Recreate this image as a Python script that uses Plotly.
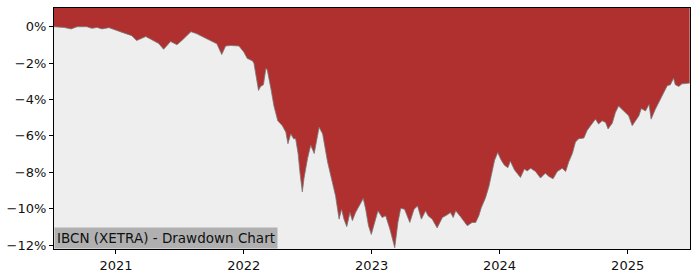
import plotly.graph_objects as go

dates = [
    "2020-07-08", "2020-08-06", "2020-08-26", "2020-09-12", "2020-10-10", "2020-10-24",
    "2020-11-08", "2020-11-22", "2020-12-12", "2021-01-01", "2021-01-23", "2021-02-15",
    "2021-03-01", "2021-03-27", "2021-04-19", "2021-05-03", "2021-05-17", "2021-06-06",
    "2021-06-24", "2021-07-08", "2021-08-03", "2021-08-20", "2021-09-17", "2021-10-16",
    "2021-10-30", "2021-11-10", "2021-11-25", "2021-12-18", "2022-01-01", "2022-01-11",
    "2022-01-15", "2022-01-26", "2022-01-30", "2022-02-04", "2022-02-12", "2022-02-18",
    "2022-02-26", "2022-03-05", "2022-03-09", "2022-03-19", "2022-03-28", "2022-04-08",
    "2022-04-21", "2022-05-01", "2022-05-07", "2022-05-15", "2022-05-23", "2022-05-29",
    "2022-06-05", "2022-06-10", "2022-06-17", "2022-06-22", "2022-07-02", "2022-07-11",
    "2022-07-21", "2022-08-04", "2022-08-14", "2022-08-28", "2022-09-08", "2022-09-20",
    "2022-09-30", "2022-10-07", "2022-10-14", "2022-10-22", "2022-10-31", "2022-11-07",
    "2022-11-16", "2022-11-26", "2022-12-08", "2022-12-15", "2022-12-23", "2022-12-31",
    "2023-01-07", "2023-01-19", "2023-01-31", "2023-02-10", "2023-02-22", "2023-03-08",
    "2023-03-17", "2023-03-25", "2023-04-05", "2023-04-11", "2023-04-20", "2023-05-02",
    "2023-05-12", "2023-05-23", "2023-06-04", "2023-06-11", "2023-06-23", "2023-07-07",
    "2023-07-22", "2023-08-05", "2023-08-14", "2023-08-22", "2023-08-29", "2023-09-12",
    "2023-10-01", "2023-10-15", "2023-10-25", "2023-11-03", "2023-11-10", "2023-11-22",
    "2023-12-02", "2023-12-08", "2023-12-18", "2023-12-27", "2024-01-06", "2024-01-15",
    "2024-01-25", "2024-02-01", "2024-02-13", "2024-03-01", "2024-03-12", "2024-03-20",
    "2024-03-30", "2024-04-13", "2024-04-27", "2024-05-11", "2024-05-21", "2024-06-02",
    "2024-06-14", "2024-06-28", "2024-07-08", "2024-07-17", "2024-07-27", "2024-08-05",
    "2024-08-14", "2024-08-29", "2024-09-07", "2024-09-17", "2024-10-01", "2024-10-10",
    "2024-10-20", "2024-10-30", "2024-11-06", "2024-11-18", "2024-11-27", "2024-12-06",
    "2024-12-20", "2025-01-04", "2025-01-14", "2025-01-23", "2025-02-02", "2025-02-09",
    "2025-02-21", "2025-03-03", "2025-03-09", "2025-03-21", "2025-04-04", "2025-04-14",
    "2025-04-24", "2025-05-03", "2025-05-12", "2025-05-17", "2025-05-27", "2025-06-05",
    "2025-06-20", "2025-06-27",
]

drawdown_pct = [
    0.00, -0.04, -0.12, 0.00, 0.00, -0.09,
    -0.04, -0.12, -0.05, -0.20, -0.34, -0.49,
    -0.76, -0.54, -0.76, -0.92, -1.24, -0.81,
    -0.99, -0.76, -0.27, -0.39, -0.66, -0.94,
    -1.53, -1.06, -1.03, -1.06, -1.39, -1.75,
    -1.78, -1.88, -2.02, -2.56, -3.50, -3.28,
    -3.19, -2.29, -2.38, -3.37, -4.36, -5.17,
    -5.44, -5.80, -6.43, -5.89, -6.16, -6.16,
    -6.97, -7.96, -9.08, -8.32, -7.24, -6.52,
    -6.97, -5.53, -5.89, -7.42, -8.32, -9.31,
    -10.58, -10.04, -10.58, -10.99, -10.22, -10.66,
    -10.22, -9.85, -9.44, -10.04, -10.94, -11.42,
    -10.94, -10.12, -10.49, -10.39, -11.12, -12.15,
    -10.76, -9.98, -10.04, -10.31, -10.76, -10.04,
    -9.85, -10.58, -10.12, -10.39, -10.58, -11.06,
    -10.49, -10.34, -10.22, -10.49, -10.12, -10.45,
    -10.94, -10.76, -10.76, -10.39, -9.95, -9.41,
    -8.77, -8.23, -7.34, -6.92, -7.34, -7.61,
    -7.75, -7.39, -7.88, -8.29, -7.82, -7.93,
    -7.78, -7.96, -8.32, -8.05, -8.23, -8.36,
    -7.96, -7.78, -7.96, -7.42, -6.97, -6.34,
    -6.16, -6.12, -5.71, -5.44, -5.08, -5.35,
    -5.17, -5.26, -5.62, -5.30, -4.72, -4.36,
    -4.63, -4.90, -5.44, -5.17, -4.90, -4.50,
    -4.63, -4.27, -5.08, -4.54, -4.00, -3.55,
    -3.24, -3.19, -2.83, -3.19, -3.28, -3.14,
    -3.14, -3.10,
]

y_tick_vals = [0, -2, -4, -6, -8, -10, -12]
y_tick_text = ["0%", "\u22122%", "\u22124%", "\u22126%", "\u22128%", "\u221210%", "\u221212%"]
x_tick_vals = ["2021-01-01", "2022-01-01", "2023-01-01", "2024-01-01", "2025-01-01"]
x_tick_text = ["2021", "2022", "2023", "2024", "2025"]
title_text = "IBCN (XETRA) - Drawdown Chart"

x_range = ["2020-07-08", "2025-06-28"]
y_range = [-12.22, 1.03]
top_level = [2.0] * len(dates)

fig = go.Figure()
fig.add_trace(go.Scatter(
    x=dates, y=top_level, mode="lines", line=dict(width=0, color="rgba(0,0,0,0)"),
    hoverinfo="skip", showlegend=False,
))
fig.add_trace(go.Scatter(
    x=dates, y=drawdown_pct, mode="lines", fill="tonexty",
    fillcolor="rgb(176,48,48)", line=dict(color="rgb(120,120,120)", width=0.8),
    showlegend=False,
))

fig.update_layout(
    width=700, height=280,
    margin=dict(l=53, r=10, t=7, b=28),
    paper_bgcolor="white", plot_bgcolor="#EEEEEE",
    font=dict(family="DejaVu Sans", size=13, color="#111111"),
    showlegend=False,
)
fig.update_xaxes(
    range=x_range, tickvals=x_tick_vals, ticktext=x_tick_text,
    showgrid=False, zeroline=False, showline=True, linecolor="black", linewidth=1,
    mirror=True, ticks="outside", ticklen=4, tickcolor="black",
)
fig.update_yaxes(
    range=y_range, tickvals=y_tick_vals, ticktext=y_tick_text,
    showgrid=False, zeroline=False, showline=True, linecolor="black", linewidth=1,
    mirror=True, ticks="outside", ticklen=4, tickcolor="black",
)
fig.add_annotation(
    text=title_text, xref="paper", yref="paper", x=0, y=0,
    xanchor="left", yanchor="bottom", showarrow=False,
    bgcolor="rgb(176,176,176)", borderpad=2,
    font=dict(family="DejaVu Sans", size=13.5, color="#111111"),
)

fig.write_html("out.html")
